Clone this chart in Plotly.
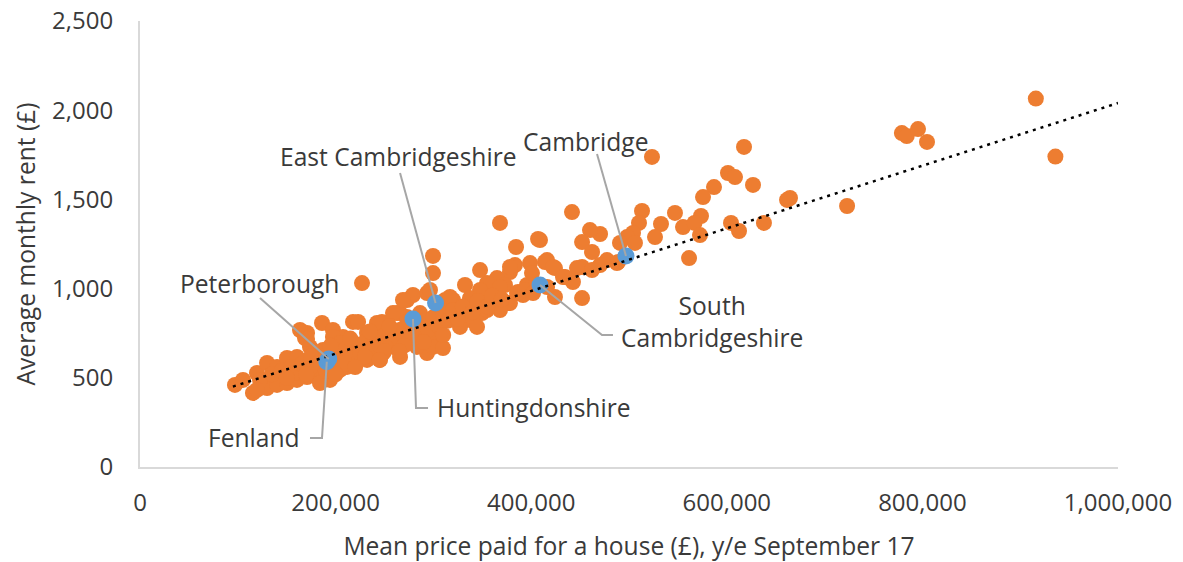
import plotly.graph_objects as go

# ---- Data ----
price = [
    916000, 936000, 779000, 784000, 795500, 804700, 723000, 664600, 661600, 638000,
    626800, 617600, 523500, 601200, 608400, 586900, 575700, 547000, 513300, 532700,
    573600, 555200, 567000, 572600, 604300, 612500, 526600, 561400, 470400, 510200,
    504100, 498000, 506100, 490800, 477500, 488800,
    441700, 460100, 452000, 409000, 462200, 416200, 452000, 446800, 487700, 470400,
    424300, 434600,
    368100, 407000, 384500, 299600, 299600, 332300, 398800, 414100, 422300, 383400,
    378300, 365000, 354800, 373200, 395700, 400800, 424300, 432500, 347700, 337400,
    320000, 311900, 391600, 376300, 350700, 361000, 386500,
    452000, 442700, 462200, 273000, 279100, 265900, 309800, 317000, 324100, 334400,
    337400, 349700, 368100, 378300, 385500, 393700, 401900, 416200, 368100, 354800,
    344600, 327200, 299600, 286300, 347700, 378300,
    227000, 186100, 197300, 217800, 247400, 262800, 268900, 293500, 296500, 232100,
    242300, 207600, 170800, 163600, 207600, 221900, 238200, 255600, 265900, 286300,
    299600, 299600, 293500, 265900, 248500, 232100, 211700, 181000, 173800, 273000,
    242300,
    97100, 115500, 105300, 119600, 129900, 140100, 150300, 160500, 168700, 129900,
    140100, 150300, 160500, 170800, 181000, 173800, 187100, 197300, 204500, 194300,
    184000, 122700,
    170800, 223000, 258700, 299600, 309800, 283200, 245400, 204500, 119600,
    135000, 145000, 155000, 160000, 165000, 175000, 180000, 185000, 190000, 195000,
    200000, 205000, 210000, 215000, 220000, 225000, 230000, 235000, 240000, 245000,
    250000, 255000, 260000, 265000, 270000, 275000, 280000, 285000, 290000, 295000,
    300000, 305000, 310000, 315000, 320000, 325000, 330000, 340000, 345000, 355000,
    360000, 370000, 150000, 170000, 190000, 210000, 230000, 250000, 270000, 290000,
    310000, 200000, 220000, 175000, 195000, 215000, 235000, 255000, 275000, 245000,
    265000,
]
rent = [
    2065, 1740, 1872, 1855, 1894, 1822, 1463, 1508, 1497, 1368,
    1581, 1794, 1738, 1648, 1625, 1569, 1513, 1424, 1435, 1362,
    1407, 1345, 1368, 1300, 1368, 1323, 1289, 1171, 1306, 1368,
    1312, 1289, 1256, 1256, 1160, 1149,
    1429, 1328, 1261, 1272, 1205, 1160, 1121, 1115, 1143, 1132,
    1115, 1065,
    1368, 1278, 1233, 1183, 1087, 1020, 1143, 1149, 1121, 1132,
    1093, 1059, 1031, 1020, 1020, 1087, 953, 1065, 992, 947,
    936, 936, 964, 919, 919, 919, 981,
    947, 1037, 1104, 936, 964, 863, 919, 953, 863, 897,
    824, 863, 1009, 919, 975, 992, 975, 1009, 880, 880,
    785, 785, 785, 863, 1104, 1121,
    1031, 807, 768, 813, 813, 863, 936, 975, 992, 751,
    751, 729, 751, 768, 617, 656, 673, 729, 768, 785,
    807, 712, 639, 617, 639, 600, 561, 617, 673, 841,
    807,
    460, 415, 488, 527, 583, 561, 611, 617, 723, 443,
    460, 471, 488, 504, 527, 583, 656, 729, 695, 488,
    471, 488,
    717, 813, 863, 673, 667, 673, 600, 544, 432,
    520, 540, 560, 530, 575, 560, 600, 580, 620, 560,
    640, 600, 660, 620, 690, 640, 700, 660, 720, 680,
    740, 700, 760, 720, 780, 740, 790, 750, 820, 770,
    840, 790, 860, 820, 880, 830, 900, 870, 930, 900,
    960, 940, 500, 520, 540, 580, 620, 650, 680, 700,
    740, 520, 560, 620, 680, 720, 760, 790, 820, 600,
    650,
]

hl_names = ["Fenland", "Peterborough", "Huntingdonshire",
            "East Cambridgeshire", "South Cambridgeshire", "Cambridge"]
hl_price = [191000, 193000, 279100, 302200, 409000, 496900]
hl_rent = [590, 605, 830, 919, 1020, 1183]

trend_intercept = 284
trend_slope = 0.001756
trend_x = [95000, 1000000]

x_ticks = [0, 200000, 400000, 600000, 800000, 1000000]
y_ticks = [0, 500, 1000, 1500, 2000, 2500]

# ---- Label layout (positions of label text and leader waypoints) ----
labels = {
    "Cambridge": dict(text="Cambridge", x=456000, y=1827, leader=[(467300, 1754)]),
    "East Cambridgeshire": dict(text="East Cambridgeshire", x=264800, y=1743, leader=[(265900, 1648)]),
    "Peterborough": dict(text="Peterborough", x=121700, y=1031, leader=[(122700, 947)]),
    "South Cambridgeshire": dict(text="South<br>Cambridgeshire", x=584900, y=818,
                                 leader=[(472400, 740), (483600, 740)]),
    "Huntingdonshire": dict(text="Huntingdonshire", x=402900, y=331,
                            leader=[(282200, 331), (294500, 331)]),
    "Fenland": dict(text="Fenland", x=116600, y=163,
                    leader=[(186100, 163), (173800, 163)]),
}

FONT = "Open Sans"
TXT = "#3A3A3A"
LABEL_SIZE = 24.6
TICK_SIZE = 24

fig = go.Figure()
fig.add_trace(go.Scatter(
    x=price, y=rent, mode="markers",
    marker=dict(color="#ED7D31", size=16, line=dict(width=0)),
    hoverinfo="skip", showlegend=False))
fig.add_trace(go.Scatter(
    x=hl_price, y=hl_rent, mode="markers", text=hl_names,
    marker=dict(color="#5B9BD5", size=17, line=dict(width=0)),
    showlegend=False))
fig.add_trace(go.Scatter(
    x=trend_x, y=[trend_intercept + trend_slope * v for v in trend_x],
    mode="lines", line=dict(color="#000000", width=2.5, dash="3px,5px"),
    hoverinfo="skip", showlegend=False))

shapes = []
annotations = []
for name, px, py in zip(hl_names, hl_price, hl_rent):
    info = labels[name]
    path = "M {} {}".format(px, py)
    for (lx, ly) in info["leader"]:
        path += " L {} {}".format(lx, ly)
    shapes.append(dict(type="path", path=path, xref="x", yref="y",
                       line=dict(color="#A6A6A6", width=2), layer="above"))
    annotations.append(dict(text=info["text"], x=info["x"], y=info["y"],
                            xref="x", yref="y", showarrow=False,
                            xanchor="center", yanchor="middle", align="center",
                            font=dict(family=FONT, size=LABEL_SIZE, color=TXT)))

fig.update_layout(
    width=1183, height=562,
    margin=dict(l=140, r=65, t=21, b=95, autoexpand=False),
    paper_bgcolor="white", plot_bgcolor="white",
    font=dict(family=FONT, size=LABEL_SIZE, color=TXT),
    shapes=shapes, annotations=annotations,
    xaxis=dict(range=[0, 1000000], tickvals=x_ticks, tickformat=",",
               showgrid=False, zeroline=False, showline=True,
               linecolor="#D9D9D9", linewidth=2, ticks="",
               ticklabelstandoff=13, automargin=False,
               tickfont=dict(family=FONT, size=TICK_SIZE, color=TXT),
               title=dict(text="Mean price paid for a house (£), y/e September 17",
                          font=dict(family=FONT, size=LABEL_SIZE, color=TXT), standoff=21)),
    yaxis=dict(range=[0, 2500], tickvals=y_ticks, tickformat=",",
               showgrid=False, zeroline=False, showline=True,
               linecolor="#D9D9D9", linewidth=2, ticks="",
               ticklabelstandoff=20, automargin=False,
               tickfont=dict(family=FONT, size=TICK_SIZE, color=TXT),
               title=dict(text="Average monthly rent (£)",
                          font=dict(family=FONT, size=LABEL_SIZE, color=TXT), standoff=9)),
)

fig.write_html("out.html", config={"displayModeBar": False},
               post_script="document.body.style.margin='0px';")
